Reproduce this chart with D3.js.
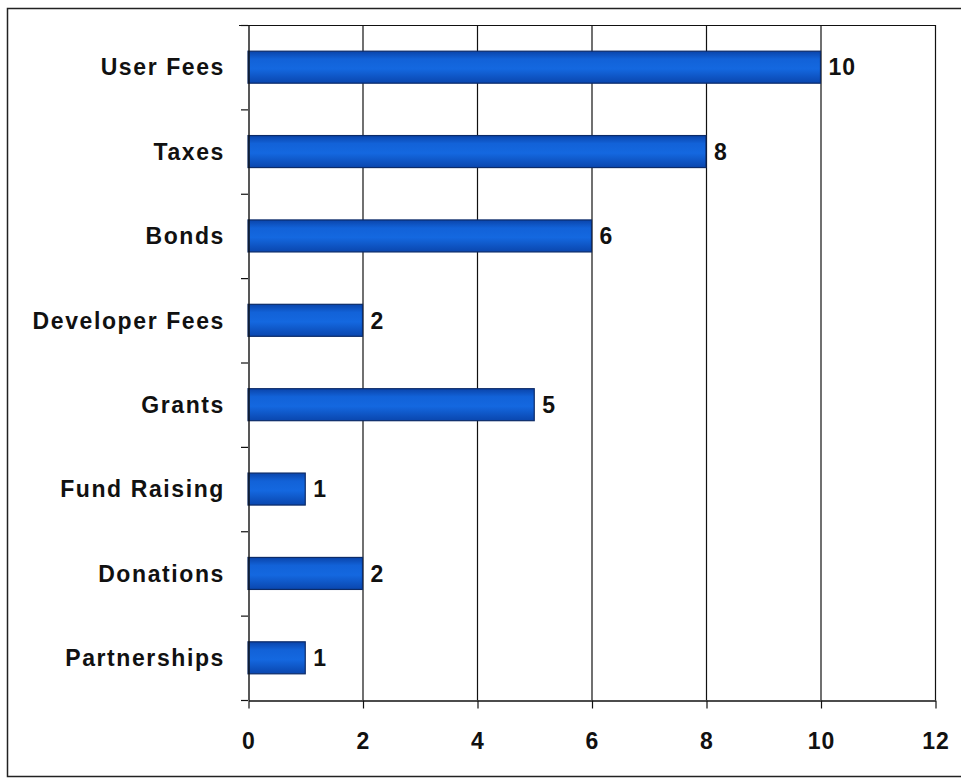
<!DOCTYPE html>
<html>
<head>
<meta charset="utf-8">
<script src="https://cdn.jsdelivr.net/npm/d3@7/dist/d3.min.js"></script>
<style>
  html, body { margin: 0; padding: 0; background: #ffffff; }
  svg { display: block; }
  text { font-family: "Liberation Sans", Arial, sans-serif; font-weight: bold; fill: #111; }
</style>
</head>
<body>
<svg id="chart" width="961" height="780"></svg>
<script>
// Funding sources and their counts
const categories = ["User Fees", "Taxes", "Bonds", "Developer Fees", "Grants", "Fund Raising", "Donations", "Partnerships"];
const values = [10, 8, 6, 2, 5, 1, 2, 1];
const xTicks = [0, 2, 4, 6, 8, 10, 12];

const svg = d3.select("#chart");
const W = 961, H = 780;
const plot = { left: 248, right: 935, top: 25, bottom: 700 };
const barH = 32;
const fontSize = 23;

// Outer frame
svg.append("rect")
  .attr("x", 7.5).attr("y", 8.5)
  .attr("width", W).attr("height", 768)
  .attr("fill", "#fff")
  .attr("stroke", "#222").attr("stroke-width", 1.5);

const x = d3.scaleLinear().domain([0, 12]).range([plot.left, plot.right]);
const y = d3.scaleBand().domain(categories).range([plot.top, plot.bottom]).padding(0);

// Bar gradient
const defs = svg.append("defs");
const grad = defs.append("linearGradient").attr("id", "barFill")
  .attr("x1", 0).attr("y1", 0).attr("x2", 0).attr("y2", 1);
[["0%", "#0a44aa"], ["25%", "#1262d8"], ["55%", "#1468e0"], ["100%", "#0a46ae"]]
  .forEach(([o, c]) => grad.append("stop").attr("offset", o).attr("stop-color", c));

// Vertical gridlines
svg.append("g").selectAll("line")
  .data(xTicks.filter(t => t > 0))
  .join("line")
  .attr("x1", d => x(d) + 0.5).attr("x2", d => x(d) + 0.5)
  .attr("y1", plot.top).attr("y2", plot.bottom)
  .attr("stroke", "#111").attr("stroke-width", 1.2);

// Top edge of plot area
svg.append("line")
  .attr("x1", plot.left - 9).attr("x2", plot.right + 0.5)
  .attr("y1", plot.top + 0.5).attr("y2", plot.top + 0.5)
  .attr("stroke", "#111").attr("stroke-width", 1.2);

// Bars
svg.append("g").selectAll("rect")
  .data(categories)
  .join("rect")
  .attr("x", x(0))
  .attr("y", d => y(d) + y.bandwidth() / 2 - barH / 2)
  .attr("width", (d, i) => x(values[i]) - x(0))
  .attr("height", barH)
  .attr("fill", "url(#barFill)")
  .attr("stroke", "#0c2b68").attr("stroke-width", 1.2);

// Value labels
svg.append("g").selectAll("text")
  .data(categories)
  .join("text")
  .attr("x", (d, i) => x(values[i]) + 8)
  .attr("y", d => y(d) + y.bandwidth() / 2)
  .attr("dy", "0.36em")
  .attr("font-size", fontSize)
  .attr("letter-spacing", 1)
  .text((d, i) => values[i]);

// Y axis with ticks at category boundaries
const yAxis = d3.axisLeft(y).tickSize(0).tickPadding(0).tickFormat("");
const gy = svg.append("g").attr("transform", `translate(${plot.left + 0.5},0)`).call(yAxis);
gy.select(".domain").attr("stroke", "#111").attr("stroke-width", 1.4);
const bounds = categories.map(c => y(c)).concat([plot.bottom]);
svg.append("g").selectAll("line")
  .data(bounds)
  .join("line")
  .attr("x1", plot.left - 7).attr("x2", plot.left)
  .attr("y1", d => d + 0.5).attr("y2", d => d + 0.5)
  .attr("stroke", "#111").attr("stroke-width", 1.2);

// Category labels
svg.append("g").selectAll("text")
  .data(categories)
  .join("text")
  .attr("x", 225)
  .attr("y", d => y(d) + y.bandwidth() / 2)
  .attr("dy", "0.36em")
  .attr("text-anchor", "end")
  .attr("font-size", fontSize)
  .attr("letter-spacing", 1.6)
  .text(d => d);

// X axis
const xAxis = d3.axisBottom(x).tickValues(xTicks).tickSize(8).tickSizeOuter(0).tickPadding(24);
const gx = svg.append("g").attr("transform", `translate(0.5,${plot.bottom + 0.5})`).call(xAxis);
gx.select(".domain").attr("stroke", "#111").attr("stroke-width", 1.4);
gx.selectAll(".tick line").attr("stroke", "#111").attr("stroke-width", 1.2);
gx.selectAll(".tick text")
  .attr("font-size", fontSize)
  .attr("letter-spacing", 1)
  .attr("fill", "#111")
  .style("font-family", '"Liberation Sans", Arial, sans-serif')
  .style("font-weight", "bold");
</script>
</body>
</html>
